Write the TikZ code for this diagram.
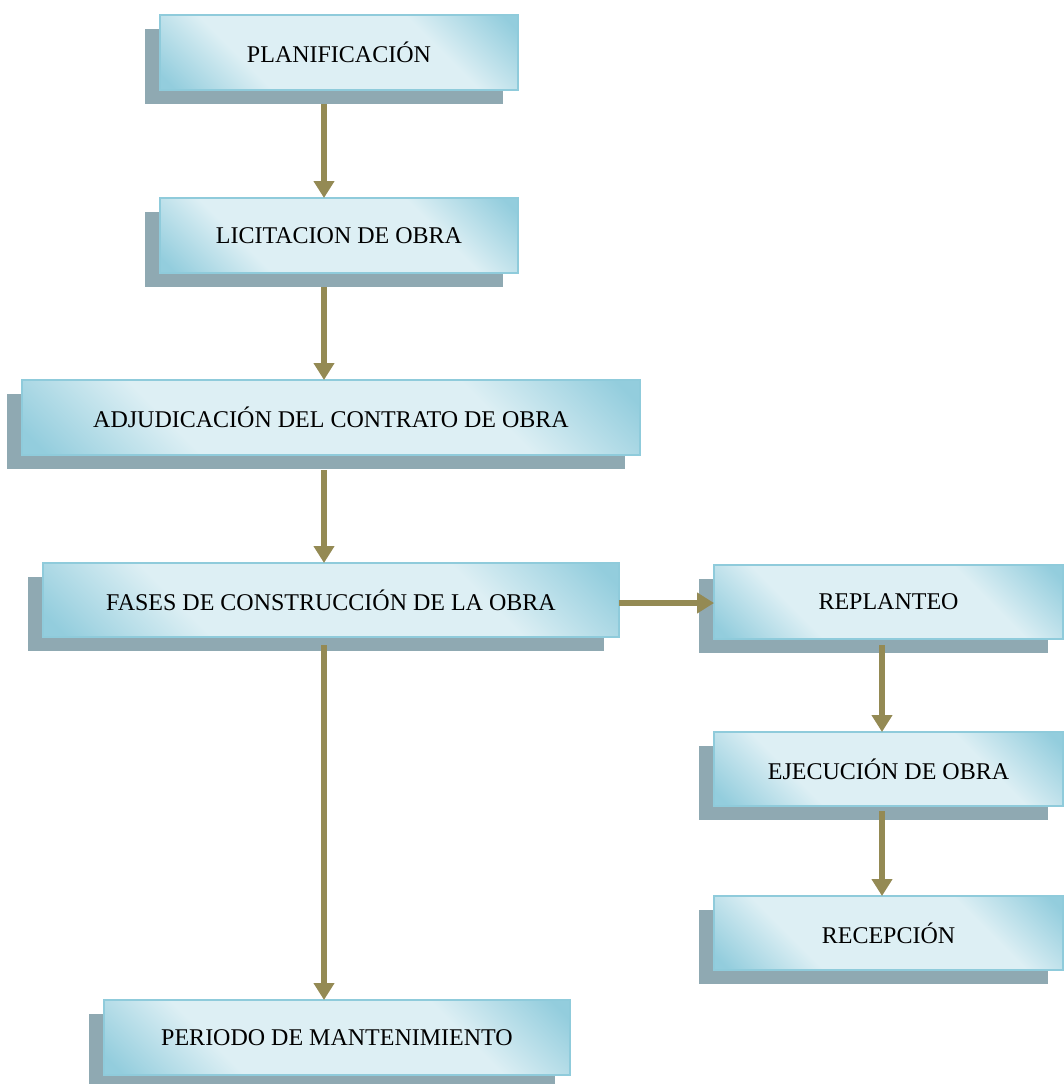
\documentclass[tikz,border=0pt]{standalone}
\usepackage{fontspec}
\setmainfont{Liberation Serif}
\usetikzlibrary{shadows,arrows.meta}
\definecolor{bdark}{HTML}{93CDDD}
\definecolor{blight}{HTML}{DDEFF4}
\definecolor{bborder}{HTML}{8FCBDB}
\definecolor{shadowc}{HTML}{8FA9B2}
\definecolor{arrowc}{HTML}{948A54}
\pgfdeclareverticalshading{boxsh}{100bp}{color(0bp)=(bdark); color(17bp)=(bdark); color(33bp)=(blight); color(67bp)=(blight); color(83bp)=(bdark); color(100bp)=(bdark)}
\tikzset{
  mybox/.style={draw=bborder, line width=2pt, shading=boxsh, shading angle=-45,
    minimum height=75pt, inner sep=0pt, outer sep=0pt,
    font=\fontsize{24}{28}\selectfont,
    general shadow={fill=shadowc, draw=none, shadow xshift=-15pt, shadow yshift=-14pt}},
  flow/.style={draw=arrowc, line width=6pt, -{Triangle[width=20pt,length=17pt]}, arrowc}
}
\begin{document}
\begin{tikzpicture}[x=1pt,y=-1pt]
\useasboundingbox (0,0) rectangle (1063,1084);
\node[mybox, minimum width=358pt] (plan) at (339,52.5) {PLANIFICACIÓN};
\node[mybox, minimum width=358pt] (lic) at (339,235.5) {LICITACION DE OBRA};
\node[mybox, minimum width=618pt] (adj) at (331,417.5) {ADJUDICACIÓN DEL CONTRATO DE OBRA};
\node[mybox, minimum width=576pt, minimum height=74pt] (fases) at (331,600) {FASES DE CONSTRUCCIÓN DE LA OBRA};
\node[mybox, minimum width=349pt, minimum height=74pt] (repl) at (888.5,602) {REPLANTEO};
\node[mybox, minimum width=349pt, minimum height=74pt] (ejec) at (888.5,769) {EJECUCIÓN DE OBRA};
\node[mybox, minimum width=349pt, minimum height=74pt] (recep) at (888.5,933) {RECEPCIÓN};
\node[mybox, minimum width=466pt] (peri) at (337,1037.5) {PERIODO DE MANTENIMIENTO};
\draw[flow] ([xshift=-15pt,yshift=-14pt]plan.south) -- ([xshift=-15pt]lic.north);
\draw[flow] ([xshift=-15pt,yshift=-14pt]lic.south) -- ([xshift=-15pt]lic.south |- adj.north);
\draw[flow] ([xshift=-7pt,yshift=-15pt]adj.south) -- ([xshift=-7pt]adj.south |- fases.north);
\draw[flow] ([xshift=-7pt,yshift=-8pt]fases.south) -- ([xshift=-7pt]fases.south |- peri.north);
\draw[flow] ([yshift=-1pt]fases.east |- repl.west) -- ([yshift=-1pt]repl.west);
\draw[flow] ([xshift=-6.5pt,yshift=-6pt]repl.south) -- ([xshift=-6.5pt]ejec.north);
\draw[flow] ([xshift=-6.5pt,yshift=-5pt]ejec.south) -- ([xshift=-6.5pt]recep.north);
\end{tikzpicture}
\end{document}
